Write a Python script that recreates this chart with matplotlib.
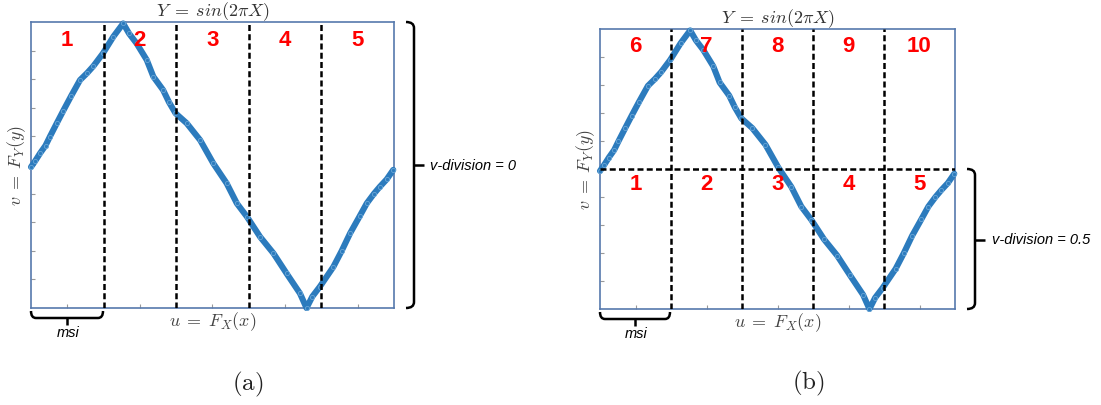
import numpy as np
import matplotlib
matplotlib.use("Agg")
import matplotlib.pyplot as plt
from matplotlib.path import Path
from matplotlib.patches import PathPatch

plt.rcParams['mathtext.fontset'] = 'cm'

# ---- data (copula of Y = sin(2*pi*X)) ----
u_vals = [0.0, 0.012, 0.025, 0.04, 0.052, 0.071, 0.089, 0.11, 0.135, 0.155, 0.172,
          0.198, 0.227, 0.254, 0.27, 0.291, 0.319, 0.337, 0.364, 0.38, 0.398, 0.429,
          0.466, 0.502, 0.539, 0.567, 0.595, 0.631, 0.668, 0.704, 0.741, 0.759, 0.775,
          0.796, 0.833, 0.856, 0.879, 0.905, 0.925, 0.945, 0.961, 0.98, 0.998]
v_vals = [0.493, 0.515, 0.541, 0.568, 0.599, 0.646, 0.69, 0.74, 0.797, 0.822, 0.846,
          0.89, 0.949, 0.995, 0.96, 0.925, 0.867, 0.809, 0.762, 0.72, 0.681, 0.646,
          0.587, 0.506, 0.436, 0.366, 0.319, 0.249, 0.191, 0.121, 0.051, 0.0, 0.04,
          0.075, 0.144, 0.2, 0.261, 0.32, 0.366, 0.4, 0.424, 0.45, 0.483]

u_divisions = [0.2, 0.4, 0.6, 0.8]
v_division_b = 0.5
cell_labels_a = ["1", "2", "3", "4", "5"]
cell_labels_b_top = ["6", "7", "8", "9", "10"]
cell_labels_b_bottom = ["1", "2", "3", "4", "5"]
cell_centers = [0.1, 0.3, 0.5, 0.7, 0.9]
title_text = r"$Y\;=\;sin(2\pi X)$"
xlabel_text = r"$u\;=\;F_X(x)$"
ylabel_text = r"$v\;=\;F_Y(y)$"
vdiv_text_a = "v-division = 0"
vdiv_text_b = "v-division = 0.5"
msi_text = "msi"
captions = ["(a)", "(b)"]

W, H = 1101, 405
fig = plt.figure(figsize=(W / 100, H / 100), dpi=100)

def px_axes(x0, y0, x1, y1):
    return fig.add_axes([x0 / W, 1 - y1 / H, (x1 - x0) / W, (y1 - y0) / H])

ax_a = px_axes(31, 22, 394, 308)
ax_b = px_axes(600, 29, 955, 309)

spine_color = "#5679ad"
blue = "#2c7bbd"
dash_kw = dict(color="black", lw=1.8, dashes=(2.4, 1.3))

for ax in (ax_a, ax_b):
    ax.set_xlim(0, 1)
    ax.set_ylim(0, 1)
    for s in ax.spines.values():
        s.set_color(spine_color)
        s.set_linewidth(1.2)
    ax.set_xticks(np.arange(0.1, 1.0, 0.1))
    ax.set_yticks(np.arange(0.1, 1.0, 0.1))
    ax.tick_params(direction="in", length=3, width=0.8, color="#999999",
                   labelbottom=False, labelleft=False)
    ax.plot(u_vals, v_vals, color=blue, lw=4.4, solid_joinstyle="round",
            solid_capstyle="round", clip_on=False, zorder=3)
    ax.plot(u_vals, v_vals, linestyle="none", marker="o", ms=3.0, mfc="none",
            mec="#6aa6d6", mew=0.6, clip_on=False, zorder=4)
    for d in u_divisions:
        ax.axvline(d, zorder=5, **dash_kw)
    ax.set_title(title_text, fontsize=13, color="#333333", pad=4)
    ax.set_xlabel(xlabel_text, fontsize=13, color="#444444", labelpad=1.5)
    ax.set_ylabel(ylabel_text, fontsize=13, color="#444444", labelpad=2)

ax_b.axhline(v_division_b, zorder=5, **dash_kw)

num_kw = dict(color="red", fontsize=16, fontweight="bold", family="Liberation Sans",
              ha="center", va="center", zorder=6)
for c, lab in zip(cell_centers, cell_labels_a):
    ax_a.text(c, 0.937, lab, **num_kw)
for c, lab in zip(cell_centers, cell_labels_b_top):
    ax_b.text(c, 0.936, lab, **num_kw)
for c, lab in zip(cell_centers, cell_labels_b_bottom):
    ax_b.text(c, 0.446, lab, **num_kw)

# ---- overlay in pixel coordinates for brackets and captions ----
ov = fig.add_axes([0, 0, 1, 1], zorder=10)
ov.set_xlim(0, W)
ov.set_ylim(H, 0)
ov.axis("off")
ov.patch.set_alpha(0)

def vbracket(x, y0, y1, ym, tip=10, hook=8):
    verts = [(x - hook, y0), (x, y0), (x, y0 + 6), (x, y1 - 6), (x, y1), (x - hook, y1)]
    codes = [Path.MOVETO, Path.CURVE3, Path.CURVE3, Path.LINETO, Path.CURVE3, Path.CURVE3]
    ov.add_patch(PathPatch(Path(verts, codes), fc="none", ec="black", lw=1.8))
    ov.plot([x, x + tip], [ym, ym], color="black", lw=1.8, solid_capstyle="butt")

def hbracket(x0, x1, y, xm, hook=7, tip=7):
    verts = [(x0, y - hook), (x0, y), (x0 + 5, y), (x1 - 5, y), (x1, y), (x1, y - hook)]
    codes = [Path.MOVETO, Path.CURVE3, Path.CURVE3, Path.LINETO, Path.CURVE3, Path.CURVE3]
    ov.add_patch(PathPatch(Path(verts, codes), fc="none", ec="black", lw=1.8))
    ov.plot([xm, xm], [y, y + tip], color="black", lw=1.8, solid_capstyle="butt")

lab_kw = dict(fontsize=10.5, style="italic", family="Liberation Sans")
vbracket(414, 22, 308, 165)
ov.text(430, 166, vdiv_text_a, ha="left", va="center", **lab_kw)
vbracket(975, 169, 309, 240)
ov.text(992, 240, vdiv_text_b, ha="left", va="center", **lab_kw)

hbracket(31, 103, 318, 67)
ov.text(68, 333, msi_text, ha="center", va="center", **lab_kw)
hbracket(600, 670, 319, 635)
ov.text(636, 334, msi_text, ha="center", va="center", **lab_kw)

ov.text(248, 384, r"$(\mathrm{a})$", fontsize=18, ha="center", va="center", color="#222222")
ov.text(808, 383, r"$(\mathrm{b})$", fontsize=18, ha="center", va="center", color="#222222")

fig.savefig("out.png", dpi=100)
